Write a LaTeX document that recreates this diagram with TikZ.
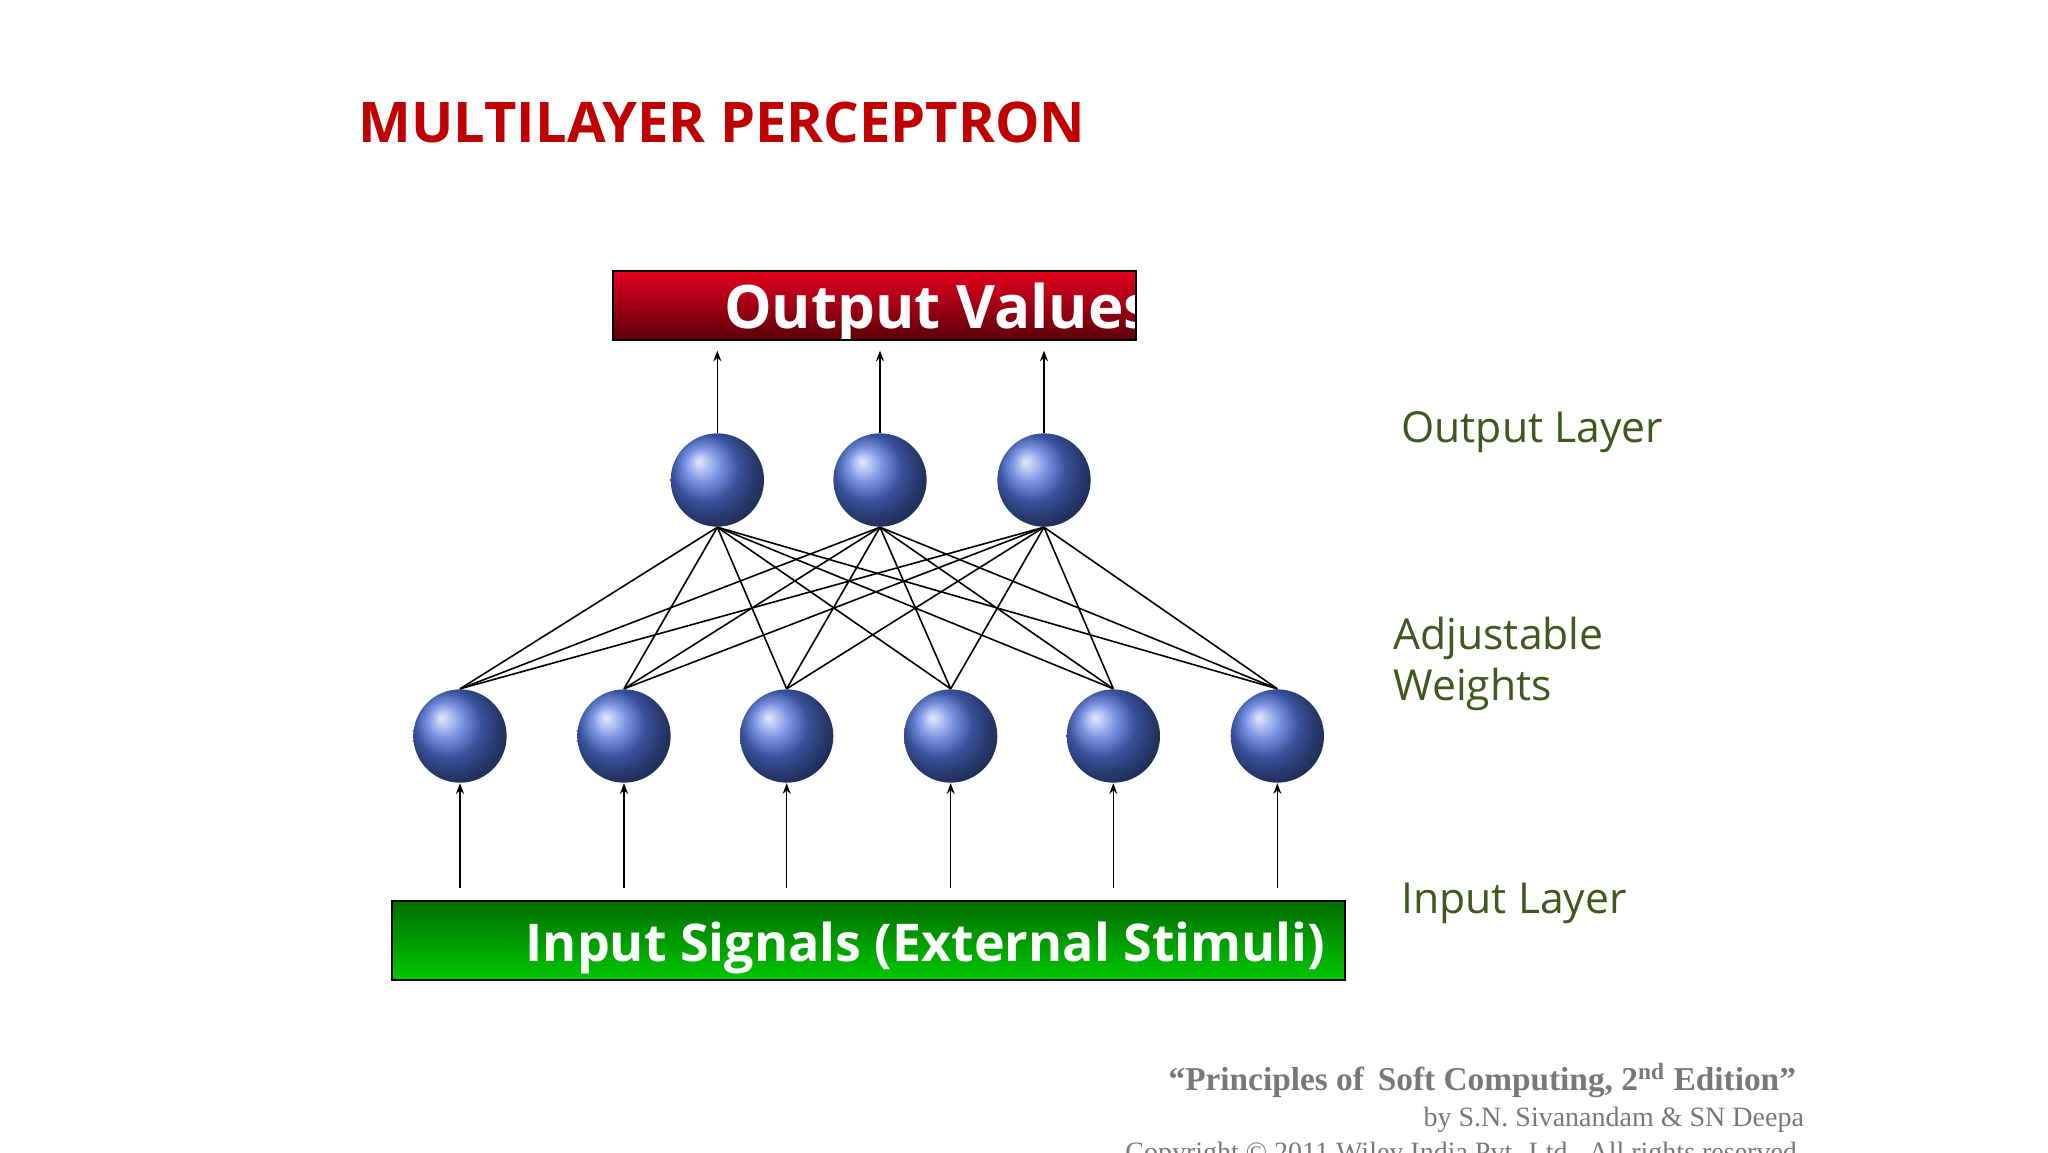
\documentclass[tikz,border=0pt]{standalone}
\usetikzlibrary{arrows.meta}
\usepackage{fontspec}
\setmainfont{Open Sans}
\newfontfamily\serifa{Liberation Serif}
\definecolor{titlered}{RGB}{192,0,0}
\definecolor{lblgreen}{RGB}{62,88,30}
\definecolor{footgray}{RGB}{120,120,120}
\begin{document}
\begin{tikzpicture}[x=0.5pt,y=-0.5pt,
  neuron/.style={circle,minimum size=35pt,inner sep=0pt,shading=ball,ball color={rgb,255:red,80;green,115;blue,220}},
  wire/.style={black,line width=0.6pt},
  arr/.style={black,line width=0.6pt,-{Stealth[length=4pt,width=3pt]}},
  lbl/.style={anchor=base west,text=lblgreen,font=\fontsize{16}{19}\selectfont,align=left}]
\useasboundingbox (0,0) rectangle (1536,864);
\node[anchor=base west,text=titlered,font=\bfseries\fontsize{21}{25}\selectfont] (title) at (262,107) {MULTILAYER PERCEPTRON};
% output box
\shade[top color={rgb,255:red,230;green,0;blue,30},bottom color={rgb,255:red,90;green,0;blue,10}] (460,203) rectangle (852,255);
\begin{scope}
\clip (460,203) rectangle (852,255);
\node[anchor=base west,text=white,font=\bfseries\fontsize{22.5}{27}\selectfont] (outtext) at (536,246) {Output Values};
\end{scope}
\draw[line width=0.8pt] (460,203) rectangle (852,255);
% input box
\shade[top color={rgb,255:red,0;green,110;blue,0},bottom color={rgb,255:red,0;green,200;blue,0}] (294,676) rectangle (1009,735);
\draw[line width=0.8pt] (294,676) rectangle (1009,735);
\node[anchor=base east,text=white,font=\bfseries\fontsize{19.5}{24}\selectfont] (intext) at (1001,721) {Input Signals (External Stimuli)};
% neurons
\foreach \i/\x in {1/538,2/660,3/783} \node[neuron] (o\i) at (\x,360) {};
\foreach \i/\x in {1/345,2/468,3/590,4/713,5/835,6/958} \node[neuron] (n\i) at (\x,552) {};
\foreach \i in {1,2,3} \foreach \j in {1,...,6} \draw[wire] (o\i.south) -- (n\j.north);
\foreach \i/\x in {1/538,2/660,3/783} {\coordinate (ot\i) at (\x,263); \draw[arr] (o\i.north) -- (ot\i);}
\foreach \i/\x in {1/345,2/468,3/590,4/713,5/835,6/958} {\coordinate (ib\i) at (\x,666); \draw[arr] (ib\i) -- (n\i.south);}
% labels
\node[lbl] (l1) at (1044,332) {Output Layer};
\node[lbl,anchor=north west] (l2) at (1038,456) {Adjustable\\Weights};
\node[lbl] (l3) at (1044,685) {Input Layer};
% footer
\node[anchor=base east,text=footgray,font=\serifa\bfseries\fontsize{12.5}{15}\selectfont] (f1) at (1354,818) {“Principles of\, Soft Computing, 2\textsuperscript{nd} Edition”};
\node[anchor=base east,text=footgray,font=\serifa\fontsize{10.5}{13}\selectfont] (f2) at (1360,845) {by S.N. Sivanandam \& SN Deepa};
\node[anchor=base east,text=footgray,font=\serifa\fontsize{10.5}{13}\selectfont] (f3) at (1360,871) {Copyright \textcopyright\ 2011 Wiley India Pvt. Ltd.\ \ All rights reserved.};
\end{tikzpicture}
\end{document}
